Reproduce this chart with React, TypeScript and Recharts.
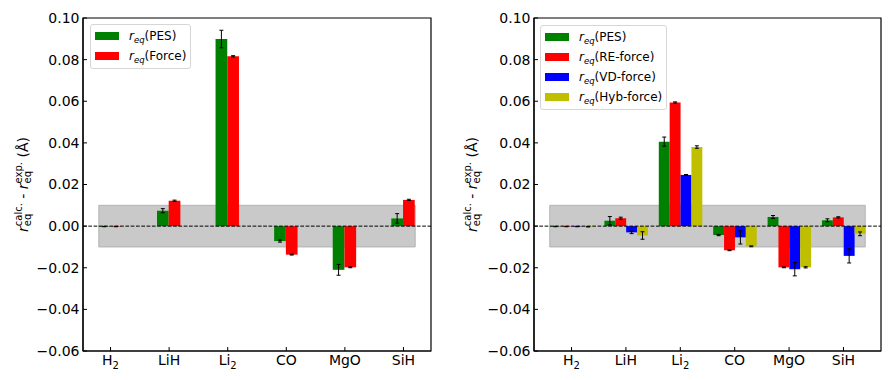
import React from "react";
import {
  Bar,
  ComposedChart,
  ErrorBar,
  Legend,
  ReferenceArea,
  ReferenceLine,
  XAxis,
  YAxis,
} from "recharts";

const categories = ["H2", "LiH", "Li2", "CO", "MgO", "SiH"];
const yTicks = [-0.06, -0.04, -0.02, 0, 0.02, 0.04, 0.06, 0.08, 0.1];

// painel esquerdo
const pesA = [-0.0002, 0.0074, 0.0899, -0.0072, -0.021, 0.0037];
const pesAErr = [0.0001, 0.001, 0.0042, 0.0005, 0.0026, 0.0023];
const forceA = [-0.0002, 0.0122, 0.0816, -0.0137, -0.0198, 0.0126];
const forceAErr = [0.0001, 0.0003, 0.0003, 0.0002, 0.0002, 0.0003];

// painel direito
const pesB = [-0.0002, 0.0026, 0.0406, -0.0043, 0.0044, 0.0028];
const pesBErr = [0.0001, 0.002, 0.0022, 0.0003, 0.0007, 0.0007];
const reB = [-0.0002, 0.0038, 0.0594, -0.0116, -0.0198, 0.0042];
const reBErr = [0.0001, 0.0005, 0.0003, 0.0002, 0.0002, 0.0003];
const vdB = [-0.0002, -0.003, 0.0246, -0.0054, -0.0207, -0.0143];
const vdBErr = [0.0001, 0.0006, 0.0002, 0.0032, 0.0032, 0.0034];
const hybB = [-0.0003, -0.0045, 0.038, -0.0097, -0.0198, -0.0037];
const hybBErr = [0.0001, 0.0018, 0.0006, 0.0002, 0.0003, 0.0009];

const FONT = "DejaVu Sans, sans-serif";
const Y_DOMAIN: [number, number] = [-0.06, 0.1];

interface Serie {
  key: string;
  name: string;
  color: string;
  vals: number[];
  errs: number[];
  off: number;
}

const fmtY = (v: number) => (v < 0 ? "\u2212" : "") + Math.abs(v).toFixed(2);

function CatTick({ x, y, payload }: any) {
  const name = categories[Math.round(payload.value)] ?? "";
  const m = name.match(/^([A-Za-z]+)(\d*)$/);
  const base = m ? m[1] : name;
  const sub = m ? m[2] : "";
  return (
    <text x={x} y={y} dy="0.71em" textAnchor="middle" fontSize={14} fontFamily={FONT} fill="#000">
      <tspan>{base}</tspan>
      {sub && (
        <tspan fontSize={10} dy={4}>
          {sub}
        </tspan>
      )}
    </text>
  );
}

function YTitle({ cx, cy }: { cx: number; cy: number }) {
  return (
    <text
      x={cx}
      y={cy}
      transform={`rotate(-90, ${cx}, ${cy})`}
      textAnchor="middle"
      fontSize={14}
      fontFamily={FONT}
      fill="#000"
    >
      <tspan fontStyle="italic">r</tspan>
      <tspan fontSize={10} dy={3}>eq</tspan>
      <tspan fontSize={10} dx={-12.5} dy={-9}>calc.</tspan>
      <tspan dy={6}>{" - "}</tspan>
      <tspan fontStyle="italic">r</tspan>
      <tspan fontSize={10} dy={3}>eq</tspan>
      <tspan fontSize={10} dx={-12.5} dy={-9}>exp.</tspan>
      <tspan dy={6}>{" (Å)"}</tspan>
    </text>
  );
}

function LegendBox({ series }: { series: Serie[] }) {
  return (
    <div
      style={{
        background: "rgba(255,255,255,0.85)",
        border: "1px solid #d6d6d6",
        borderRadius: 3,
        padding: "1px 4px 2px 4px",
        fontFamily: FONT,
        fontSize: 12,
        color: "#000",
      }}
    >
      {series.map((s) => (
        <div key={s.key} style={{ display: "flex", alignItems: "center", height: 20 }}>
          <span style={{ display: "inline-block", width: 24, height: 8.5, background: s.color, marginRight: 10 }} />
          <span style={{ whiteSpace: "nowrap" }}>
            <i>r</i>
            <i style={{ fontSize: 8.5, position: "relative", top: 3 }}>eq</i>({s.name})
          </span>
        </div>
      ))}
    </div>
  );
}

function Painel({
  series,
  domain,
  band,
  barSize,
  yWidth,
  rightMargin,
  titleX,
  legendPos,
}: {
  series: Serie[];
  domain: [number, number];
  band: [number, number];
  barSize: number;
  yWidth: number;
  rightMargin: number;
  titleX: number;
  legendPos: { left: number; top: number };
}) {
  const data = categories.map((c, i) => {
    const row: Record<string, number | string> = { cat: c };
    series.forEach((s) => {
      row[s.key] = s.vals[i];
      row[s.key + "Err"] = s.errs[i];
    });
    return row;
  });
  return (
    <div style={{ position: "relative" }}>
      <ComposedChart
        width={447}
        height={380}
        data={data}
        barGap={0}
        barCategoryGap={0}
        margin={{ top: 18, right: rightMargin, left: 0, bottom: 0 }}
      >
        <XAxis
          xAxisId="main"
          type="number"
          dataKey={(d: any) => categories.indexOf(d.cat)}
          domain={domain}
          allowDataOverflow
          ticks={[0, 1, 2, 3, 4, 5]}
          tick={<CatTick />}
          tickSize={-4}
          tickMargin={8}
          height={29}
          axisLine={{ stroke: "#000", strokeWidth: 1.2 }}
          tickLine={{ stroke: "#000" }}
        />
        {series.map((s) => (
          <XAxis
            key={"x" + s.key}
            xAxisId={s.key}
            orientation="top"
            dataKey={(d: any) => categories.indexOf(d.cat) + s.off}
            type="number"
            domain={domain}
            allowDataOverflow
            height={0}
            hide
          />
        ))}
        <YAxis
          type="number"
          domain={Y_DOMAIN}
          ticks={yTicks}
          allowDataOverflow
          tickFormatter={fmtY}
          width={yWidth}
          tickSize={-4}
          tickMargin={7.5}
          tick={{ fill: "#000", fontSize: 14, fontFamily: FONT }}
          axisLine={{ stroke: "#000", strokeWidth: 1.2 }}
          tickLine={{ stroke: "#000" }}
          label={{ content: () => <YTitle cx={titleX} cy={184.5} /> }}
        />
        {/* moldura do gráfico */}
        <ReferenceArea
          xAxisId="main"
          x1={domain[0]}
          x2={domain[1]}
          y1={Y_DOMAIN[0]}
          y2={Y_DOMAIN[1]}
          fill="none"
          stroke="#000"
          strokeWidth={1.2}
        />
        <ReferenceArea
          xAxisId="main"
          x1={band[0]}
          x2={band[1]}
          y1={-0.01}
          y2={0.01}
          fill="#c9c9c9"
          fillOpacity={1}
          stroke="#b3b3b3"
          strokeWidth={1}
        />
        {series.map((s) => (
          <Bar
            key={s.key}
            xAxisId={s.key}
            dataKey={s.key}
            name={s.name}
            fill={s.color}
            barSize={barSize}
            isAnimationActive={false}
          >
            <ErrorBar dataKey={s.key + "Err"} direction="y" width={2} stroke="#000" strokeWidth={1} />
          </Bar>
        ))}
        <ReferenceLine xAxisId="main" y={0} stroke="#000" strokeWidth={1} strokeDasharray="3.7 1.6" />
        <Legend
          layout="vertical"
          align="center"
          verticalAlign="middle"
          wrapperStyle={{ left: legendPos.left, top: legendPos.top, width: "auto", right: "auto", bottom: "auto" }}
          content={() => <LegendBox series={series} />}
        />
      </ComposedChart>
    </div>
  );
}

const seriesA: Serie[] = [
  { key: "pes", name: "PES", color: "#008000", vals: pesA, errs: pesAErr, off: -0.1 },
  { key: "force", name: "Force", color: "#ff0000", vals: forceA, errs: forceAErr, off: 0.1 },
];

const seriesB: Serie[] = [
  { key: "pes", name: "PES", color: "#008000", vals: pesB, errs: pesBErr, off: -0.3 },
  { key: "re", name: "RE-force", color: "#ff0000", vals: reB, errs: reBErr, off: -0.1 },
  { key: "vd", name: "VD-force", color: "#0000ff", vals: vdB, errs: vdBErr, off: 0.1 },
  { key: "hyb", name: "Hyb-force", color: "#bfbf00", vals: hybB, errs: hybBErr, off: 0.3 },
];

export default function App() {
  return (
    <div style={{ position: "absolute", left: 0, top: 0, width: 894, height: 380, display: "flex", background: "#fff" }}>
      <Painel
        series={seriesA}
        domain={[-0.47, 5.47]}
        band={[-0.2, 5.2]}
        barSize={11.7}
        yWidth={83}
        rightMargin={16}
        titleX={28}
        legendPos={{ left: 90, top: 24 }}
      />
      <Painel
        series={seriesB}
        domain={[-0.69, 5.69]}
        band={[-0.4, 5.4]}
        barSize={10.9}
        yWidth={87}
        rightMargin={13}
        titleX={30}
        legendPos={{ left: 93, top: 25 }}
      />
    </div>
  );
}
